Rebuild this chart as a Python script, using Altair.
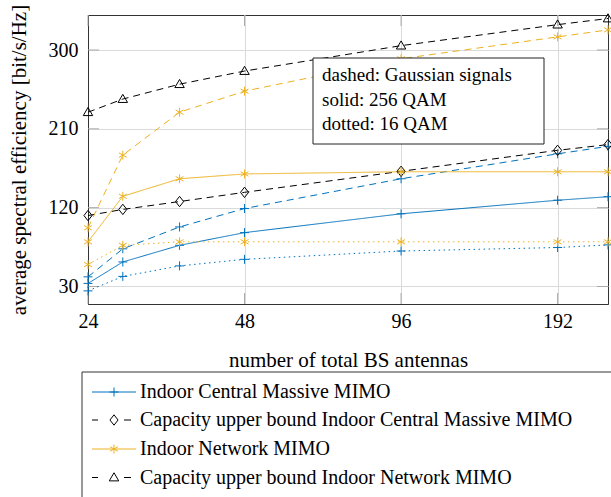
import altair as alt
import pandas as pd

# ---------------- data ----------------
antennas = [24, 28, 36, 48, 96, 192, 240]

central_256 = [33.5, 58, 77, 91.5, 113, 128.5, 132.5]
central_gauss = [41, 73, 98, 119, 153, 181.5, 190]
central_16 = [25, 41.5, 53.5, 61, 70.5, 74.5, 77.5]
central_cap = [111, 118, 127, 137.5, 161.5, 185.5, 192]
network_256 = [81, 133, 153, 158.5, 161, 161, 161]
network_gauss = [97, 180, 229, 253, 290, 315, 323]
network_16 = [55, 77, 81, 81, 81, 81, 81]
network_cap = [229, 244, 261, 276, 305, 329, 336]

x_ticks = [24, 48, 96, 192]
y_ticks = [30, 120, 210, 300]

legend_labels = [
    "Indoor Central Massive MIMO",
    "Capacity upper bound Indoor Central Massive MIMO",
    "Indoor Network MIMO",
    "Capacity upper bound Indoor Network MIMO",
]
box_text = "dashed: Gaussian signals\nsolid: 256 QAM\ndotted: 16 QAM"

# ---------------- styles ----------------
BLUE = "#0072BD"
YELLOW = "#EDB120"
BLACK = "#000000"
FONT = "Liberation Serif"
FS = 20

SOLID = [1, 0]
DASHED = [7, 5]
DOTTED = [1.5, 3.5]

PLUS = "M-1,0H1M0,-1V1"
STAR = "M0,-1V1M-0.866,-0.5L0.866,0.5M-0.866,0.5L0.866,-0.5"
DIAMOND = "M0,-1.15L0.9,0L0,1.15L-0.9,0Z"
TRIANGLE = "M0,-1.05L1.05,0.75L-1.05,0.75Z"

series = [
    ("c256", central_256, BLUE, SOLID, PLUS),
    ("cgauss", central_gauss, BLUE, DASHED, PLUS),
    ("c16", central_16, BLUE, DOTTED, PLUS),
    ("ccap", central_cap, BLACK, DASHED, DIAMOND),
    ("n256", network_256, YELLOW, SOLID, STAR),
    ("ngauss", network_gauss, YELLOW, DASHED, STAR),
    ("n16", network_16, YELLOW, DOTTED, STAR),
    ("ncap", network_cap, BLACK, DASHED, TRIANGLE),
]

rows = []
for name, vals, *_ in series:
    for a, v in zip(antennas, vals):
        rows.append({"series": name, "antennas": a, "se": v})
df = pd.DataFrame(rows)

names = [s[0] for s in series]
color_scale = alt.Scale(domain=names, range=[s[2] for s in series])
dash_scale = alt.Scale(domain=names, range=[s[3] for s in series])
shape_scale = alt.Scale(domain=names, range=[s[4] for s in series])

x_scale = alt.Scale(type="log", base=2, domain=[24, 240], nice=False)
y_scale = alt.Scale(domain=[10, 340], nice=False, zero=False)

x_enc = alt.X(
    "antennas:Q", scale=x_scale,
    axis=alt.Axis(values=x_ticks, title="number of total BS antennas",
                  labelPadding=7, titleY=62, titleBaseline="alphabetic",
                  labelFlush=False),
)
y_enc = alt.Y(
    "se:Q", scale=y_scale,
    axis=alt.Axis(values=y_ticks, title="average spectral efficiency [bit/s/Hz]",
                  labelPadding=10, titleX=-63, titleY=144.5,
                  titleBaseline="alphabetic", titleAlign="center", titleAngle=270),
)

base = alt.Chart(df)

lines = base.mark_line(strokeWidth=1).encode(
    x=x_enc, y=y_enc,
    color=alt.Color("series:N", scale=color_scale, legend=None),
    strokeDash=alt.StrokeDash("series:N", scale=dash_scale, legend=None),
    detail="series:N",
)

points = base.mark_point(filled=False, strokeWidth=1, opacity=1, size=81).encode(
    x="antennas:Q", y="se:Q",
    color=alt.Color("series:N", scale=color_scale, legend=None),
    shape=alt.Shape("series:N", scale=shape_scale, legend=None),
)

# inward tick marks (pgfplots style)
TICK_C = "#a8a8a8"
yt = pd.DataFrame({"v": y_ticks})
xt = pd.DataFrame({"v": x_ticks})
ytick_l = alt.Chart(yt).mark_rule(color=TICK_C, strokeWidth=1).encode(
    y=alt.Y("v:Q", scale=y_scale), x=alt.value(0), x2=alt.value(11))
ytick_r = alt.Chart(yt).mark_rule(color=TICK_C, strokeWidth=1).encode(
    y=alt.Y("v:Q", scale=y_scale), x=alt.value(509), x2=alt.value(520))
xtick_b = alt.Chart(xt).mark_rule(color=TICK_C, strokeWidth=1).encode(
    x=alt.X("v:Q", scale=x_scale), y=alt.value(278), y2=alt.value(289))
xtick_t = alt.Chart(xt).mark_rule(color=TICK_C, strokeWidth=1).encode(
    x=alt.X("v:Q", scale=x_scale), y=alt.value(0), y2=alt.value(11))

one = pd.DataFrame({"k": [0]})

box_rect = alt.Chart(one).mark_rect(fill="white", stroke="#222", strokeWidth=1).encode(
    x=alt.value(225), x2=alt.value(456), y=alt.value(43), y2=alt.value(129)
)
box_txt = alt.Chart(one).mark_text(
    align="left", baseline="alphabetic", font=FONT, fontSize=19,
    lineBreak="\n", lineHeight=24.5, color="black"
).encode(x=alt.value(234), y=alt.value(66), text=alt.value(box_text))

legend_rect = alt.Chart(one).mark_rect(fill="white", stroke="#333", strokeWidth=1).encode(
    x=alt.value(-6), x2=alt.value(620), y=alt.value(357), y2=alt.value(560)
)

legend_layers = []
legend_styles = [
    (BLUE, False, PLUS),
    (BLACK, True, DIAMOND),
    (YELLOW, False, STAR),
    (BLACK, True, TRIANGLE),
]
row_y = [377, 405, 434, 462.5]
for lbl, (col, dashed, shp), yy in zip(legend_labels, legend_styles, row_y):
    if dashed:
        for xa, xb in [(4, 10), (36, 43)]:
            legend_layers.append(
                alt.Chart(one).mark_rule(color=col, strokeWidth=1).encode(
                    x=alt.value(xa), x2=alt.value(xb), y=alt.value(yy)))
    else:
        legend_layers.append(
            alt.Chart(one).mark_rule(color=col, strokeWidth=1).encode(
                x=alt.value(4), x2=alt.value(48), y=alt.value(yy)))
    legend_layers.append(
        alt.Chart(one).mark_point(shape=shp, filled=False, color=col, strokeWidth=1,
                                  opacity=1, size=81).encode(
            x=alt.value(26), y=alt.value(yy)))
    legend_layers.append(
        alt.Chart(one).mark_text(align="left", baseline="middle", font=FONT,
                                 fontSize=FS, color="black").encode(
            x=alt.value(52), y=alt.value(yy), text=alt.value(lbl)))

chart = alt.layer(
    ytick_l, ytick_r, xtick_b, xtick_t,
    lines, points, box_rect, box_txt, legend_rect, *legend_layers
).properties(
    width=520, height=289,
    autosize=alt.AutoSizeParams(type="none"),
    padding={"left": 88, "top": 15, "right": 3, "bottom": 193},
).configure_view(
    stroke="#333", strokeWidth=1
).configure_axis(
    labelFont=FONT, titleFont=FONT, labelFontSize=FS, titleFontSize=21,
    labelColor="black", titleColor="black", titleFontWeight="normal",
    grid=True, gridColor="#dadada", gridWidth=1,
    ticks=False, domainColor="#333", domainWidth=1,
)

chart.save("out.html", embed_options={"renderer": "svg", "actions": False})
